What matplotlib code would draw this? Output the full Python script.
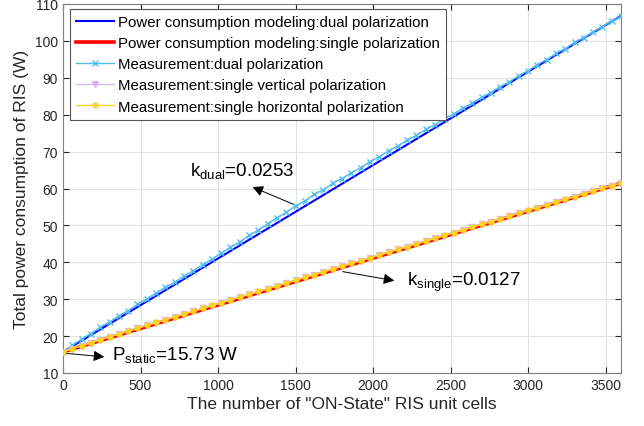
import matplotlib
matplotlib.use("Agg")
import matplotlib.pyplot as plt
import numpy as np

plt.rcParams['font.family'] = ['Liberation Sans', 'DejaVu Sans']

# ---- data ----
model_x = [0, 3600]
model_dual = [15.73, 106.81]
model_single = [15.73, 61.45]

meas_x = list(range(0, 3601, 60))
meas_dual = [15.73, 17.5, 19.2, 20.7, 22.4, 23.8, 25.5, 26.9, 28.6, 30.1,
             31.7, 33.2, 34.6, 36.3, 37.7, 39.4, 40.8, 42.5, 44.1, 45.5,
             47.3, 48.7, 50.4, 52.1, 53.5, 55.3, 56.6, 58.4, 59.7, 61.4,
             62.7, 64.3, 65.6, 67.3, 68.6, 70.2, 71.5, 73.1, 74.4, 76.0,
             77.3, 78.9, 80.2, 81.8, 83.1, 84.7, 86.0, 87.6, 88.9, 90.6,
             91.9, 93.6, 94.9, 96.6, 97.9, 99.6, 100.8, 102.5, 103.8, 105.4,
             106.7]
meas_single_v = [15.73, 16.6, 17.4, 18.2, 19.0, 19.8, 20.5, 21.3, 22.1, 22.9,
                 23.6, 24.4, 25.2, 25.9, 26.7, 27.5, 28.2, 29.0, 29.8, 30.5,
                 31.3, 32.0, 32.8, 33.6, 34.3, 35.1, 35.9, 36.6, 37.4, 38.1,
                 38.9, 39.7, 40.4, 41.2, 41.9, 42.7, 43.5, 44.2, 45.0, 45.7,
                 46.5, 47.2, 48.0, 48.7, 49.5, 50.3, 51.0, 51.8, 52.5, 53.3,
                 54.0, 54.8, 55.5, 56.3, 57.0, 57.8, 58.6, 59.3, 60.1, 60.8,
                 61.4]
meas_single_h = [15.73, 16.6, 17.4, 18.2, 19.0, 19.8, 20.6, 21.3, 22.1, 22.9,
                 23.7, 24.4, 25.2, 26.0, 26.7, 27.5, 28.3, 29.0, 29.8, 30.6,
                 31.3, 32.1, 32.8, 33.6, 34.4, 35.1, 35.9, 36.6, 37.4, 38.2,
                 38.9, 39.7, 40.4, 41.2, 42.0, 42.7, 43.5, 44.2, 45.0, 45.7,
                 46.5, 47.3, 48.0, 48.8, 49.5, 50.3, 51.0, 51.8, 52.6, 53.3,
                 54.1, 54.8, 55.6, 56.3, 57.1, 57.8, 58.6, 59.3, 60.1, 60.8,
                 61.5]

labels = ["Power consumption modeling:dual polarization",
          "Power consumption modeling:single polarization",
          "Measurement:dual polarization",
          "Measurement:single vertical polarization",
          "Measurement:single horizontal polarization"]

fig = plt.figure(figsize=(6.44, 4.27), dpi=100)
ax = fig.add_axes([63/644, 1-374/427, 558/644, 369/427])

ax.plot(model_x, model_dual, color='#0000FF', lw=1.5, label=labels[0], zorder=3)
ax.plot(model_x, model_single, color='#FF0000', lw=2.6, label=labels[1], zorder=3)
ax.plot(meas_x, meas_dual, color='#4DBEEE', lw=1.0, marker='x', ms=5, mew=1.0,
        label=labels[2], zorder=4)
ax.plot(meas_x, meas_single_v, color='#D8B4FA', lw=1.0, marker='v', ms=5,
        label=labels[3], zorder=4)
ax.plot(meas_x, meas_single_h, color='#FFD21F', lw=1.0, marker='o', ms=3.5,
        label=labels[4], zorder=5)

ax.set_xlim(0, 3600)
ax.set_ylim(10, 110)
ax.set_xticks(np.arange(0, 3501, 500))
ax.set_yticks(np.arange(10, 111, 10))
ax.grid(True, color='#E3E3E3', lw=0.8)
ax.set_axisbelow(True)
ax.tick_params(direction='in', top=True, right=True, labelsize=10,
               colors='#262626', length=4, width=0.8)
for s in ax.spines.values():
    s.set_color('#808080')
    s.set_linewidth(0.8)

ax.set_xlabel('The number of "ON-State" RIS unit cells', fontsize=12.5,
              color='#262626', labelpad=3)
ax.set_ylabel('Total power consumption of RIS (W)', fontsize=12.5,
              color='#262626', labelpad=4)

leg = ax.legend(loc='upper left', bbox_to_anchor=(0.012, 0.987), fontsize=10.8,
                frameon=True, fancybox=False, edgecolor='#555555',
                framealpha=1, handlelength=2.55, labelspacing=0.48,
                borderpad=0.4, handletextpad=0.25, borderaxespad=0)
leg.get_frame().set_linewidth(0.8)

arrowprops = dict(arrowstyle='-|>', color='black', lw=0.7, mutation_scale=16)
ax.annotate('', xy=(1206, 60.7), xytext=(1510, 55.3), arrowprops=arrowprops)
ax.text(819, 64.7, r'k$_{\mathregular{dual}}$=0.0253', fontsize=13.5,
        va='center', ha='left')
ax.annotate('', xy=(2155, 34.9), xytext=(1787, 37.6), arrowprops=arrowprops)
ax.text(2220, 34.8, r'k$_{\mathregular{single}}$=0.0127', fontsize=13.5,
        va='center', ha='left')
ax.annotate('', xy=(284, 14.3), xytext=(0, 15.4), arrowprops=arrowprops)
ax.text(316, 15.0, r'P$_{\mathregular{static}}$=15.73 W', fontsize=13.5,
        va='center', ha='left')

fig.savefig('out.png', dpi=100)
